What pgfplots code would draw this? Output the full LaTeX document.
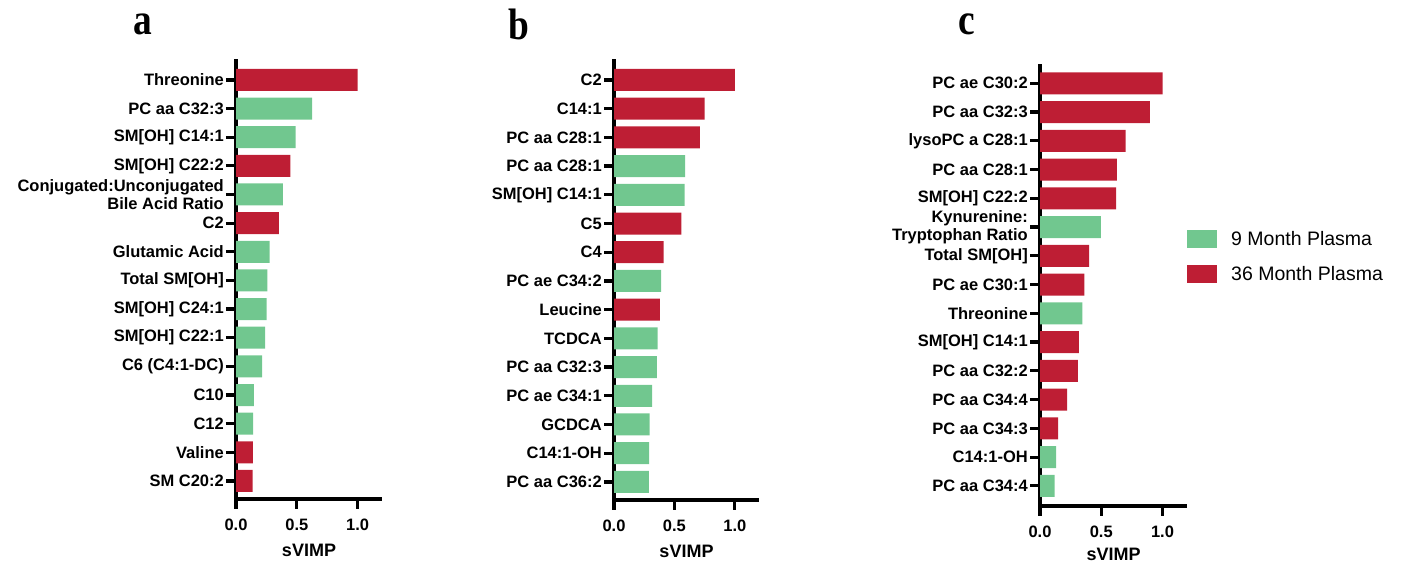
\documentclass[border=0pt]{standalone}
\usepackage{pgfplots}
\pgfplotsset{compat=1.18}
\usepackage{graphicx}
\usepackage{fontspec}
\setmainfont{Liberation Sans}
\newfontfamily\serifb{Liberation Serif}
\definecolor{gr}{RGB}{113,199,143}
\definecolor{rd}{RGB}{190,30,52}
\pgfplotsset{
 panel/.style={
  scale only axis, anchor=south west,
  xbar, bar shift=0pt, bar width=22pt,
  xmin=0, xmax=1.2,
  axis x line*=bottom, axis y line*=left,
  axis line style={line width=3.4pt, -},
  every outer x axis line/.append style={line width=3.4pt},
  every outer y axis line/.append style={line width=3.4pt},
  every tick/.append style={line width=3.2pt, black},
  major tick length=10pt,
  tick align=outside,
  xtick={0,0.5,1}, xticklabels={0.0,0.5,1.0},
  ytick={0,...,14},
  xticklabel style={font=\fontsize{16.5}{18}\selectfont\bfseries, inner sep=0pt, yshift=-10pt},
  yticklabel style={font=\fontsize{16.5}{17.5}\selectfont\bfseries, align=right, inner sep=0pt, xshift=-2pt},
  xlabel={sVIMP},
  xlabel style={font=\fontsize{18}{20}\selectfont\bfseries, at={(axis description cs:0.5,0)}, anchor=center, yshift=-51pt},
  every axis plot/.append style={draw=none},
 }
}
\begin{document}
\begin{tikzpicture}[x=1pt,y=1pt]
\useasboundingbox (0,0) rectangle (1405,564);
% panel a
\begin{axis}[panel, at={(236pt,65pt)}, width=146pt, height=440pt, ymin=-0.63, ymax=14.73,
 yticklabels={{SM C20:2},{Valine},{C12},{C10},{C6 (C4:1-DC)},{SM[OH] C22:1},{SM[OH] C24:1},{Total SM[OH]},{Glutamic Acid},{C2},{Conjugated:Unconjugated\\Bile Acid Ratio},{SM[OH] C22:2},{SM[OH] C14:1},{PC aa C32:3},{Threonine}}]
\addplot[fill=gr] coordinates {(0.625,13) (0.49,12) (0.386,10) (0.277,8) (0.257,7) (0.252,6) (0.24,5) (0.215,4) (0.147,3) (0.14,2)};
\addplot[fill=rd] coordinates {(1.0,14) (0.446,11) (0.353,9) (0.138,1) (0.136,0)};
\end{axis}
% panel b
\begin{axis}[panel, at={(614pt,64pt)}, width=145pt, height=441pt, ymin=-0.63, ymax=14.73,
 yticklabels={{PC aa C36:2},{C14:1-OH},{GCDCA},{PC ae C34:1},{PC aa C32:3},{TCDCA},{Leucine},{PC ae C34:2},{C4},{C5},{SM[OH] C14:1},{PC aa C28:1},{PC aa C28:1},{C14:1},{C2}}]
\addplot[fill=gr] coordinates {(0.588,11) (0.585,10) (0.39,7) (0.36,5) (0.355,4) (0.316,3) (0.294,2) (0.291,1) (0.288,0)};
\addplot[fill=rd] coordinates {(1.0,14) (0.75,13) (0.71,12) (0.557,9) (0.41,8) (0.379,6)};
\end{axis}
% panel c
\begin{axis}[panel, at={(1040pt,58pt)}, width=147pt, height=442pt, ymin=-0.70, ymax=14.67,
 xlabel style={yshift=3pt},
 yticklabels={{PC aa C34:4},{C14:1-OH},{PC aa C34:3},{PC aa C34:4},{PC aa C32:2},{SM[OH] C14:1},{Threonine},{PC ae C30:1},{Total SM[OH]},{Kynurenine:\\Tryptophan Ratio},{SM[OH] C22:2},{PC aa C28:1},{lysoPC a C28:1},{PC aa C32:3},{PC ae C30:2}},
 legend style={at={(axis description cs:1,0.5645)}, anchor=west, draw=none, fill=none, inner sep=0pt,
   font=\fontsize{19.5}{21}\selectfont, row sep=17pt,
   nodes={inner sep=0pt, anchor=west}},
 legend image code/.code={\fill[#1] (0pt,-9pt) rectangle (30pt,9pt); \path (44pt,0pt);}]
\addplot[fill=gr] coordinates {(0.496,9) (0.345,6) (0.131,1) (0.12,0)};
\addplot[fill=rd] coordinates {(1.0,14) (0.896,13) (0.698,12) (0.627,11) (0.622,10) (0.40,8) (0.362,7) (0.318,5) (0.31,4) (0.222,3) (0.148,2)};
\legend{9 Month Plasma, 36 Month Plasma}
\end{axis}
\node[font=\serifb\bfseries\fontsize{44}{44}\selectfont] at (143,540) {\scalebox{0.85}[1]{a}};
\node[font=\serifb\bfseries\fontsize{44}{44}\selectfont] at (519,540) {\scalebox{0.85}[1]{b}};
\node[font=\serifb\bfseries\fontsize{44}{44}\selectfont] at (967,540) {\scalebox{0.85}[1]{c}};
\end{tikzpicture}
\end{document}
